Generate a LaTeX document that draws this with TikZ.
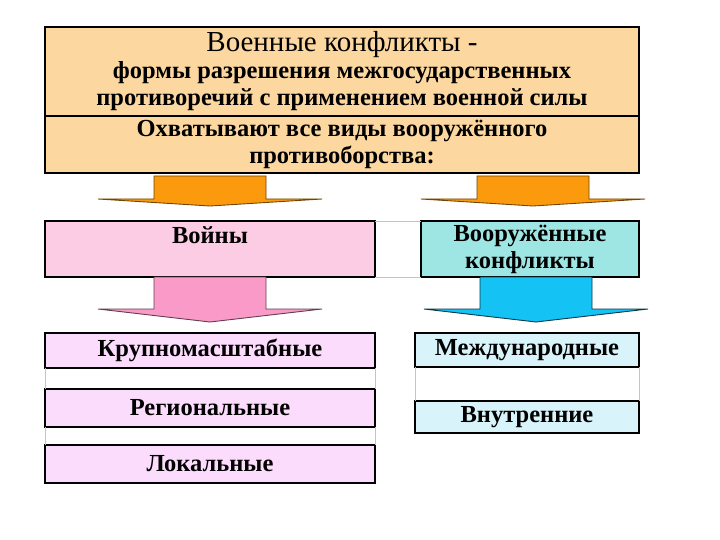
\documentclass[tikz,border=0pt]{standalone}
\usepackage{fontspec}
\setmainfont{Liberation Serif}
\usepackage{xcolor}
\usetikzlibrary{positioning, calc}
\definecolor{peach}{HTML}{FCD7A0}
\definecolor{orangearr}{HTML}{FB9A0C}
\definecolor{warpink}{HTML}{FCCCE4}
\definecolor{pinkarr}{HTML}{F99AC8}
\definecolor{armcyan}{HTML}{9EE6E4}
\definecolor{cyanarr}{HTML}{14C2F4}
\definecolor{lilac}{HTML}{FCDCFC}
\definecolor{icecyan}{HTML}{D8F4FA}
\definecolor{gridgray}{HTML}{C4C4C4}

\begin{document}
\begin{tikzpicture}[
    x=1pt, y=-1pt,
    box/.style={rectangle, draw=black, line width=1.3pt, align=center, outer sep=0pt, inner sep=1pt, anchor=north west, font=\fontsize{24.5}{27}\selectfont\bfseries},
    topbox/.style={box, fill=peach, minimum width=594, minimum height=#1},
    kindbox/.style={box, minimum height=56},
    leftbox/.style={box, fill=lilac, minimum width=330, minimum height=#1},
    rightbox/.style={box, fill=icecyan, minimum width=224, minimum height=#1},
    grid/.style={draw=gridgray, line width=0.8pt},
    barrow/.style 2 args={to path={let \p1=(\tikztostart), \p2=(\tikztotarget) in
        (\x1-56,\y1) -- (\x1-56,\y2+#1+#2) -- (\x1-112,\y2+#1+#2) -- (\x1,\y2+#1)
        -- (\x1+112,\y2+#1+#2) -- (\x1+56,\y2+#1+#2) -- (\x1+56,\y1) -- cycle}},
    orangeblk/.style={fill=orangearr, draw=orangearr!45!black, line width=0.9pt},
    pinkblk/.style={fill=pinkarr, draw=pinkarr!40!black, line width=0.9pt},
    cyanblk/.style={fill=cyanarr, draw=cyanarr!30!black, line width=0.9pt}
]
\useasboundingbox (0,0) rectangle (720,540);

% definition
\node[topbox=89] (defn) at (45,27) {{\fontsize{29}{30}\selectfont\mdseries Военные конфликты -}\\
    формы разрешения межгосударственных\\
    противоречий с применением военной силы};
\node[topbox=57, below=0pt of defn.south west, anchor=north west] (scope) {Охватывают все виды вооружённого\\
    противоборства:};

% two kinds
\node[kindbox, fill=warpink, minimum width=330] (war) at (45,221) {Войны\\\mbox{}};
\node[kindbox, fill=armcyan, minimum width=218] (armed) at (421,221) {Вооружённые\\конфликты};
\draw[grid] (war.north east) -- (armed.north west);
\draw[grid] (war.south east) -- (armed.south west);

% wars by scale
\node[leftbox=35] (large) at (45,333) {Крупномасштабные};
\node[leftbox=38, below=21pt of large.south west, anchor=north west] (regional) {Региональные};
\node[leftbox=38, below=18pt of regional.south west, anchor=north west] (local) {Локальные};
\draw[grid] (large.south west) -- (regional.north west);
\draw[grid] (large.south east) -- (regional.north east);
\draw[grid] (regional.south west) -- (local.north west);
\draw[grid] (regional.south east) -- (local.north east);

% armed conflicts
\node[rightbox=34] (intl) at (415,333) {Международные};
\node[rightbox=32, below=34pt of intl.south west, anchor=north west] (internal) {Внутренние};
\draw[grid] (intl.south west) -- (internal.north west);
\draw[grid] (intl.south east) -- (internal.north east);

% block arrows
\draw[orangeblk] ([yshift=-3]scope.south -| war.north) to[barrow={15}{7}] (war.north);
\draw[orangeblk] ([xshift=3,yshift=-3]scope.south -| armed.north) to[barrow={15}{7}] (armed.north);
\draw[pinkblk] (war.south) to[barrow={11}{13}] (large.north);
\draw[cyanblk] ([xshift=6]armed.south) to[barrow={11}{13}] (intl.north);
\end{tikzpicture}
\end{document}
